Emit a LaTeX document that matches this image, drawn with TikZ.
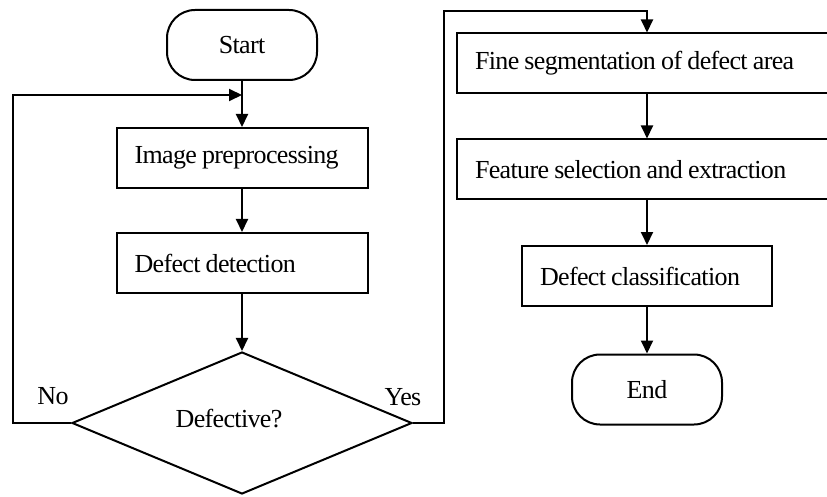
\documentclass[tikz,border=0pt]{standalone}
\usepackage{fontspec}
\setmainfont[LetterSpace=-2.5]{Liberation Serif}
\usetikzlibrary{shapes.geometric,arrows.meta}
% narrow inter-word spacing for box labels
\newcommand\narrowspaces{\spaceskip=0.2em plus 0.02em\relax\xspaceskip=0.2em\relax}
\begin{document}
\begin{tikzpicture}[x=1pt,y=-1pt,
  line width=2pt,
  every node/.style={font=\fontsize{26}{30}\selectfont, execute at begin node=\narrowspaces},
  terminal/.style={draw, rectangle, rounded corners=28pt, minimum width=150pt, minimum height=70pt, inner sep=0pt},
  stepbox/.style={draw, rectangle, minimum height=60pt, inner xsep=18pt, inner ysep=0pt, align=left},
  decision/.style={draw, diamond, minimum width=340pt, minimum height=142pt, inner sep=4pt, aspect=2.4},
  flow/.style={-{Triangle[length=13pt,width=12pt]}},
  lbl/.style={inner sep=0pt}]
\useasboundingbox (0,0) rectangle (827,497);
\clip (0,0) rectangle (827,497);

% left column
\node[terminal] (start) at (242,45) {Start};
\node[stepbox, text width=215pt] (prep) at (242,158) {Image preprocessing};
\node[stepbox, text width=215pt] (detect) at (242,263) {Defect detection};
\node[decision] (dec) at (242,423) {};
\node[lbl] (q) at (229,419) {Defective?};
\node[lbl] (no) at (53,396) {No};
\node[lbl] (yes) at (403,397) {Yes};

% right column
\node[stepbox, text width=344pt] (seg) at (647,63.5) {Fine segmentation of defect area};
\node[stepbox, text width=344pt] (feat) at (647,169.5) {Feature selection and extraction};
\node[stepbox, text width=214pt] (cls) at (647,276) {Defect classification};
\node[terminal] (end) at (647,389.5) {End};

% routing points
\coordinate (merge) at (242,95);
\coordinate (lx) at (13,95);
\coordinate (rx) at (444,11);

% connectors
\draw (start) -- (merge);
\draw[flow] (merge) -- (prep);
\draw[flow] (prep) -- (detect);
\draw[flow] (detect) -- (dec);
\draw[flow] (dec.west) -| (lx) -- (merge);
\draw[flow] (dec.east) -| (rx) -| (seg.north);
\draw[flow] (seg) -- (feat);
\draw[flow] (feat) -- (cls);
\draw[flow] (cls) -- (end);
\end{tikzpicture}
\end{document}
